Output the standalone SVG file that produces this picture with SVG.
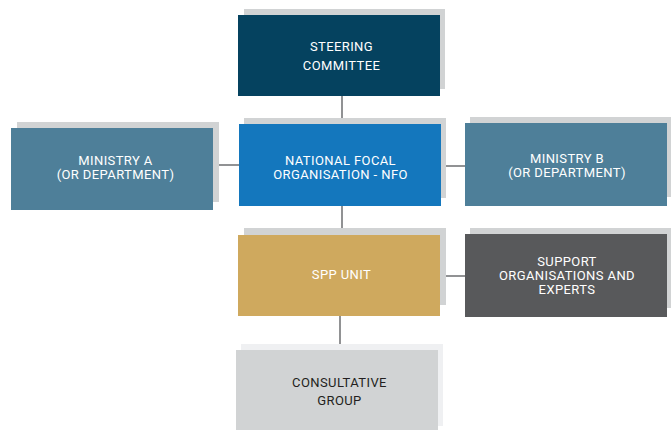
<svg xmlns="http://www.w3.org/2000/svg" width="671" height="430" viewBox="0 0 671 430">
<style>
.sh{fill:#d1d3d4}
.t{font-family:Roboto,"Liberation Sans",sans-serif;font-size:13px;letter-spacing:0.4px;fill:#ffffff;text-anchor:middle}
.dk{fill:#231f20}
.c{stroke:#6d6e70;stroke-width:1.5;fill:none}
</style>
<rect width="671" height="430" fill="#ffffff"/>
<g id="connectors">
<line class="c" x1="342" y1="96" x2="342" y2="124"/>
<line class="c" x1="219" y1="165" x2="239" y2="165"/>
<line class="c" x1="446" y1="166" x2="465" y2="166"/>
<line class="c" x1="342" y1="206" x2="342" y2="235"/>
<line class="c" x1="446" y1="276" x2="465" y2="276"/>
<line class="c" x1="340" y1="316" x2="340" y2="344"/>
</g>
<g id="steering">
<rect class="sh" x="244" y="9" width="201" height="80"/>
<rect x="238" y="15" width="202" height="81" fill="#05425f"/>
<text class="t" x="341.5" y="50.5">STEERING</text>
<text class="t" x="341.5" y="69.5">COMMITTEE</text>
</g>
<g id="nfo">
<rect class="sh" x="244" y="118" width="202" height="80"/>
<rect x="239" y="124" width="202" height="82" fill="#1477bd"/>
<text class="t" x="340.5" y="164.5">NATIONAL FOCAL</text>
<text class="t" x="340.5" y="178.5">ORGANISATION - NFO</text>
</g>
<g id="ministry-a">
<rect class="sh" x="17" y="122" width="202" height="80"/>
<rect x="11" y="128" width="202" height="82" fill="#4e7f99"/>
<text class="t" x="115.5" y="164.5">MINISTRY A</text>
<text class="t" x="115.5" y="178.5">(OR DEPARTMENT)</text>
</g>
<g id="ministry-b">
<rect class="sh" x="470" y="117" width="201" height="80"/>
<rect x="465" y="123" width="202" height="83" fill="#4e7f99"/>
<text class="t" x="567" y="162.5">MINISTRY B</text>
<text class="t" x="567" y="176.5">(OR DEPARTMENT)</text>
</g>
<g id="spp">
<rect class="sh" x="244" y="228" width="202" height="77"/>
<rect x="238" y="235" width="202" height="81" fill="#cfa95e"/>
<text class="t" x="341.5" y="278.5">SPP UNIT</text>
</g>
<g id="support">
<rect class="sh" x="470" y="228" width="201" height="80"/>
<rect x="465" y="234" width="202" height="83" fill="#58595b"/>
<text class="t" x="567" y="265.5">SUPPORT</text>
<text class="t" x="567" y="279.5">ORGANISATIONS AND</text>
<text class="t" x="567" y="293.5">EXPERTS</text>
</g>
<g id="consultative">
<rect x="241" y="344" width="202" height="82" fill="#eff0f2"/>
<rect x="236" y="350" width="202" height="80" fill="#d1d3d4"/>
<text class="t dk" x="339.5" y="386.5">CONSULTATIVE</text>
<text class="t dk" x="339.5" y="404.5">GROUP</text>
</g>
</svg>
